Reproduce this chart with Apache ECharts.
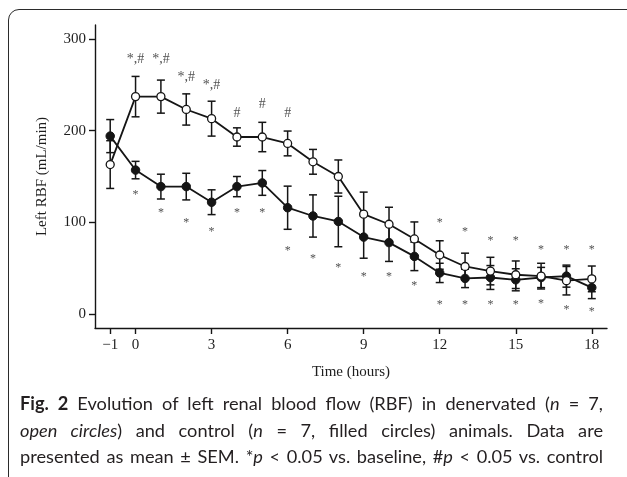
<!DOCTYPE html>
<html>
<head>
<meta charset="utf-8">
<script src="https://cdn.jsdelivr.net/npm/echarts@6/dist/echarts.min.js"></script>
<style>
  html, body { margin:0; padding:0; background:#fff; width:627px; height:477px; overflow:hidden; }
  #frame { position:absolute; left:8px; top:9px; width:640px; height:520px; border:1.5px solid #2b2b2b; border-radius:11px; box-sizing:border-box; }
  #chart { position:absolute; left:0; top:0; width:627px; height:477px; }
  .cap { position:absolute; left:20px; width:583px; font-family:'Lato','Open Sans',sans-serif; font-size:18.2px; line-height:26px; color:#231f20; white-space:nowrap; text-align:justify; text-align-last:justify; }
  .cap b { font-weight:700; }
</style>
</head>
<body>
<div id="frame"></div>
<div id="chart"></div>
<div class="cap" style="top:390px"><b>Fig. 2</b> Evolution of left renal blood flow (RBF) in denervated (<i>n</i> = 7,</div>
<div class="cap" style="top:417px"><i>open circles</i>) and control (<i>n</i> = 7, filled circles) animals. Data are</div>
<div class="cap" style="top:443px">presented as mean ± SEM. *<i>p</i> &lt; 0.05 vs. baseline, #<i>p</i> &lt; 0.05 vs. control</div>
<script>
// ---- data ----
const hours = [-1, 0, 1, 2, 3, 4, 5, 6, 7, 8, 9, 10, 11, 12, 13, 14, 15, 16, 17, 18];
const denervMean = [163, 237, 237, 223, 213, 193, 193, 186, 166, 150, 109, 98, 82, 64.5, 52, 47, 43, 41.5, 36.5, 38.5];
const denervSem  = [26, 22, 18, 17, 19, 10, 16, 13.5, 13.5, 18, 24, 18.5, 18.5, 15.5, 14.5, 15, 15, 14, 15.5, 14];
const controlMean = [194, 157, 139, 139, 122, 139, 143, 116, 107, 101, 84, 78, 63, 45, 39, 40, 37.5, 40, 41.5, 29];
const controlSem  = [18, 9.5, 13.5, 14.5, 13.5, 11, 13.5, 23.5, 23, 27.5, 23, 20.5, 15.5, 10.5, 10, 13, 12, 11, 12, 12];
const xTickValues = [-1, 0, 3, 6, 9, 12, 15, 18];
const yTickValues = [0, 100, 200, 300];
// significance marks above the denervated curve (hours 0-6)
const topMarkHours = [0, 1, 2, 3, 4, 5, 6];
const topMarkText  = ['*,#', '*,#', '*,#', '*,#', '#', '#', '#'];
const topMarkY     = [278, 278, 258, 249, 218.5, 228.6, 218.5];
// stars below the control curve (hours 0-18)
const controlStarHours = [0, 1, 2, 3, 4, 5, 6, 7, 8, 9, 10, 11, 12, 13, 14, 15, 16, 17, 18];
const controlStarY = [133.4, 113.4, 103.3, 93.5, 113.4, 113.4, 72.8, 63.4, 53.6, 43.8, 43.8, 33.7, 13.7, 13.7, 13.7, 13.7, 14.8, 8.3, 5.8];
// stars above the denervated curve (hours 12-18)
const denervStarHours = [12, 13, 14, 15, 16, 17, 18];
const denervStarY = [103.3, 93.5, 83.7, 83.7, 73.5, 73.5, 73.5];

const INK = '#151515';
const SERIF = "'Liberation Serif','DejaVu Serif',serif";

function errorBars(mean, sem, z) {
  return {
    type: 'custom',
    z: z,
    silent: true,
    encode: { x: 0, y: [1, 2] },
    data: hours.map((h, i) => [h, mean[i] - sem[i], mean[i] + sem[i]]),
    renderItem: function (params, api) {
      const x = api.value(0);
      const lo = api.coord([x, api.value(1)]);
      const hi = api.coord([x, api.value(2)]);
      const w = 4;
      const st = { stroke: INK, lineWidth: 1.5 };
      return {
        type: 'group',
        children: [
          { type: 'line', shape: { x1: lo[0], y1: lo[1], x2: hi[0], y2: hi[1] }, style: st },
          { type: 'line', shape: { x1: lo[0] - w, y1: lo[1], x2: lo[0] + w, y2: lo[1] }, style: st },
          { type: 'line', shape: { x1: hi[0] - w, y1: hi[1], x2: hi[0] + w, y2: hi[1] }, style: st }
        ]
      };
    }
  };
}

function textMarks(xs, ys, texts, size, dy) {
  return {
    type: 'scatter',
    z: 5,
    silent: true,
    symbolSize: 1,
    itemStyle: { color: 'rgba(0,0,0,0)' },
    data: xs.map((x, i) => ({ value: [x, ys[i]], name: Array.isArray(texts) ? texts[i] : texts })),
    label: {
      show: true,
      position: 'inside',
      formatter: '{b}',
      offset: [0, dy],
      color: '#1e1e1e',
      fontFamily: SERIF,
      fontSize: size
    }
  };
}

const chart = echarts.init(document.getElementById('chart'), null, { renderer: 'canvas' });
chart.setOption({
  animation: false,
  backgroundColor: 'transparent',
  grid: { left: 95, right: 20, top: 25, bottom: 149, containLabel: false },
  xAxis: {
    type: 'value',
    min: -1.6, max: 18.6,
    name: 'Time (hours)',
    nameLocation: 'middle',
    nameGap: 37,
    nameTextStyle: { fontFamily: SERIF, fontSize: 15, color: '#1e1e1e' },
    axisLine: { onZero: false, lineStyle: { color: INK, width: 1.4 } },
    axisTick: { show: true, length: 6, customValues: xTickValues, lineStyle: { color: INK, width: 1.4 } },
    axisLabel: { customValues: xTickValues, margin: 10, fontFamily: SERIF, fontSize: 15, color: '#1e1e1e',
                 formatter: v => (v < 0 ? '\u2212' + Math.abs(v) : String(v)) },
    splitLine: { show: false }
  },
  yAxis: {
    type: 'value',
    min: -15, max: 315,
    name: 'Left RBF (mL/min)',
    nameLocation: 'middle',
    nameGap: 45,
    nameRotate: 90,
    nameTextStyle: { fontFamily: SERIF, fontSize: 15, color: '#1e1e1e' },
    axisLine: { onZero: false, lineStyle: { color: INK, width: 1.4 } },
    axisTick: { show: true, length: 6, customValues: yTickValues, lineStyle: { color: INK, width: 1.4 } },
    axisLabel: { customValues: yTickValues, margin: 9, fontFamily: SERIF, fontSize: 15, color: '#1e1e1e' },
    splitLine: { show: false }
  },
  series: [
    errorBars(controlMean, controlSem, 1),
    errorBars(denervMean, denervSem, 1),
    {
      type: 'line', z: 3, silent: true,
      data: hours.map((h, i) => [h, controlMean[i]]),
      symbol: 'circle', symbolSize: 8.5,
      lineStyle: { color: INK, width: 1.8 },
      itemStyle: { color: INK, borderColor: INK, borderWidth: 1 }
    },
    {
      type: 'line', z: 4, silent: true,
      data: hours.map((h, i) => [h, denervMean[i]]),
      symbol: 'circle', symbolSize: 8,
      lineStyle: { color: INK, width: 1.8 },
      itemStyle: { color: '#fff', borderColor: INK, borderWidth: 1.3 }
    },
    textMarks(topMarkHours, topMarkY, topMarkText, 14, 0),
    textMarks(controlStarHours, controlStarY, '*', 12, 3),
    textMarks(denervStarHours, denervStarY, '*', 12, 3)
  ]
});
</script>
</body>
</html>
